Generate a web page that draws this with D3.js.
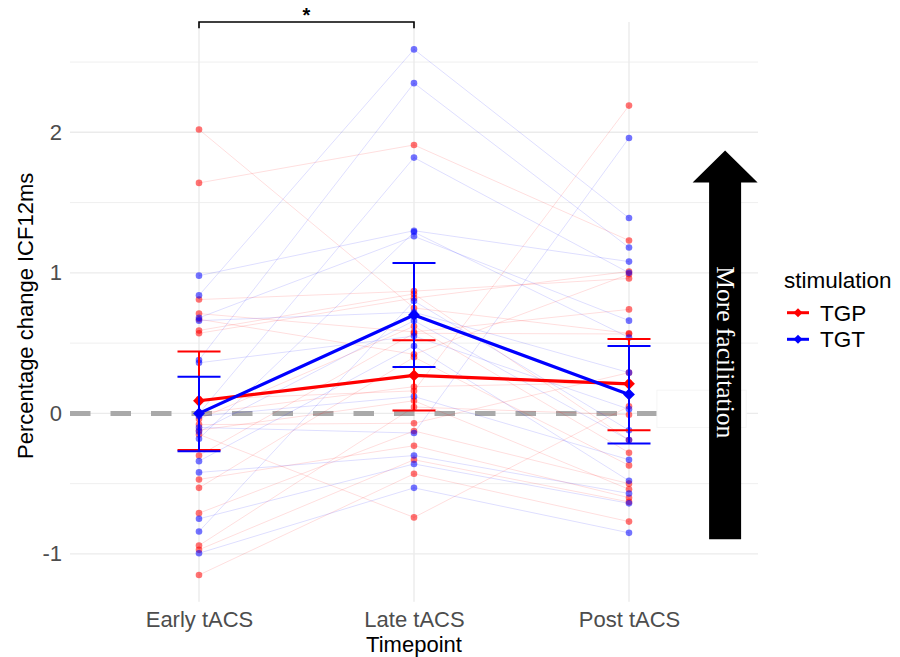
<!DOCTYPE html>
<html>
<head>
<meta charset="utf-8">
<script src="https://cdn.jsdelivr.net/npm/d3@7"></script>
<style>
  html, body { margin: 0; padding: 0; background: #fff; }
  svg { display: block; }
</style>
</head>
<body>
<svg id="chart" width="900" height="657"></svg>
<script>
// Timepoints on the x axis
const timepoints = ["Early tACS", "Late tACS", "Post tACS"];
const groups = ["TGP", "TGT"];
const yTicks = [-1, 0, 1, 2];
const yMinor = [-0.5, 0.5, 1.5, 2.5];

// Individual participants (one value per timepoint, same order)
const tgpEarly = [2.02, 1.64, 0.81, 0.71, 0.67, 0.59, 0.57, 0.10, -0.04, -0.08, -0.12, -0.30, -0.47, -0.53, -0.71, -0.94, -0.97, -1.15, 0.00, -0.15];
const tgpLate  = [0.75, 1.91, 0.87, 0.58, 0.42, 0.85, 0.82, 0.16, 0.62, -0.07, 0.09, 0.57, -0.23, 0.40, -0.125, 0.045, -0.33, -0.43, 0.19, -0.74];
const tgpPost  = [0.57, 1.23, 0.96, 0.74, 0.99, -0.19, 1.01, 2.19, -0.28, 0.29, -0.54, 0.565, -0.60, -0.37, -0.50, -0.01, -0.63, -0.77, 0.22, 0.05];

const tgtEarly = [0.98, 0.84, 0.68, 0.66, 0.38, 0.36, 0.00, -0.02, -0.10, -0.18, -0.34, -0.42, -0.75, -0.84, -0.995, -0.13];
const tgtLate  = [1.30, 2.59, 1.26, 0.72, 2.35, 0.55, 1.82, 0.12, -0.14, 1.29, 0.48, -0.30, -0.36, 0.80, -0.53, 0.66];
const tgtPost  = [1.08, 1.39, 0.66, 0.29, 1.18, 0.03, 1.00, -0.33, 1.96, 0.54, -0.48, -0.57, -0.64, -0.12, -0.85, -0.19];

// Group means with 95% CI
const tgpMean  = [0.09, 0.27, 0.21];
const tgpLower = [-0.26, 0.02, -0.12];
const tgpUpper = [0.44, 0.52, 0.53];
const tgtMean  = [0.00, 0.70, 0.135];
const tgtLower = [-0.27, 0.33, -0.215];
const tgtUpper = [0.26, 1.07, 0.48];

const colors = { TGP: "#ff0000", TGT: "#0000ff" };

// ---------------------------------------------------------------
const svg = d3.select("#chart");
const panel = { left: 70, right: 758, top: 22, bottom: 601.7 };

const x = d3.scaleLinear().domain([0.4, 3.6]).range([panel.left, panel.right]);
const y = d3.scaleLinear().domain([-1.34, 2.785]).range([panel.bottom, panel.top]);
const xi = i => x(i + 1);

const series = [
  { key: "TGP", rows: [tgpEarly, tgpLate, tgpPost], mean: tgpMean, lo: tgpLower, hi: tgpUpper },
  { key: "TGT", rows: [tgtEarly, tgtLate, tgtPost], mean: tgtMean, lo: tgtLower, hi: tgtUpper }
];

// Grid
const grid = svg.append("g");
grid.selectAll(".minor").data(yMinor).join("line")
  .attr("x1", panel.left).attr("x2", panel.right)
  .attr("y1", d => y(d)).attr("y2", d => y(d))
  .attr("stroke", "#ebebeb").attr("stroke-width", 0.8);
grid.selectAll(".major").data(yTicks).join("line")
  .attr("x1", panel.left).attr("x2", panel.right)
  .attr("y1", d => y(d)).attr("y2", d => y(d))
  .attr("stroke", "#ebebeb").attr("stroke-width", 1.4);
grid.selectAll(".vmajor").data(timepoints).join("line")
  .attr("x1", (d, i) => xi(i)).attr("x2", (d, i) => xi(i))
  .attr("y1", panel.top).attr("y2", panel.bottom)
  .attr("stroke", "#ebebeb").attr("stroke-width", 1.4);

// Reference line at zero
svg.append("line")
  .attr("x1", panel.left).attr("x2", panel.right)
  .attr("y1", y(0)).attr("y2", y(0))
  .attr("stroke", "#a9a9a9").attr("stroke-width", 5)
  .attr("stroke-dasharray", "20.5,20");

// Faint label box behind the arrow
svg.append("rect")
  .attr("x", x(3.13)).attr("y", y(0.165))
  .attr("width", x(3.545) - x(3.13)).attr("height", y(-0.1) - y(0.165))
  .attr("fill", "#fff").attr("stroke", "#f5f5f5").attr("stroke-width", 1);

// Participant trajectories
const line = d3.line().x(d => xi(d.t)).y(d => y(d.v));
series.forEach(s => {
  const n = s.rows[0].length;
  const subjects = d3.range(n).map(k => s.rows.map((r, t) => ({ t, v: r[k] })));
  svg.append("g").selectAll("path").data(subjects).join("path")
    .attr("d", line).attr("fill", "none")
    .attr("stroke", colors[s.key]).attr("stroke-opacity", 0.13).attr("stroke-width", 1);
});
series.forEach(s => {
  const pts = s.rows.flatMap((r, t) => r.map(v => ({ t, v })));
  svg.append("g").selectAll("circle").data(pts).join("circle")
    .attr("cx", d => xi(d.t)).attr("cy", d => y(d.v)).attr("r", 3.3)
    .attr("fill", colors[s.key]).attr("fill-opacity", 0.55);
});

// Group means, error bars and markers
series.forEach(s => {
  const g = svg.append("g");
  const mpts = s.mean.map((v, t) => ({ t, v }));
  g.append("path").attr("d", line(mpts)).attr("fill", "none")
    .attr("stroke", colors[s.key]).attr("stroke-width", 3.2).attr("stroke-linejoin", "round");
  s.mean.forEach((m, t) => {
    g.append("line").attr("x1", xi(t)).attr("x2", xi(t))
      .attr("y1", y(s.lo[t])).attr("y2", y(s.hi[t]))
      .attr("stroke", colors[s.key]).attr("stroke-width", 2);
    [s.lo[t], s.hi[t]].forEach(v => {
      g.append("line").attr("x1", xi(t) - 21.5).attr("x2", xi(t) + 21.5)
        .attr("y1", y(v)).attr("y2", y(v))
        .attr("stroke", colors[s.key]).attr("stroke-width", 2);
    });
  });
  g.selectAll("path.m").data(mpts).join("path").attr("class", "m")
    .attr("d", d3.symbol().type(d3.symbolSquare).size(70))
    .attr("transform", d => `translate(${xi(d.t)},${y(d.v)}) rotate(45)`)
    .attr("fill", colors[s.key]);
});

// Axes
const yAxis = svg.append("g")
  .attr("transform", `translate(${panel.left - 8},0)`)
  .call(d3.axisLeft(y).tickValues(yTicks).tickSize(0).tickPadding(0).tickFormat(d => String(d)));
yAxis.select(".domain").remove();
yAxis.selectAll("text").attr("font-family", "Liberation Sans, Arial, sans-serif")
  .attr("font-size", 22).attr("fill", "#4d4d4d");

const xAxis = svg.append("g")
  .attr("transform", `translate(0,${panel.bottom})`)
  .call(d3.axisBottom(x).tickValues([1, 2, 3]).tickSize(0).tickPadding(0)
    .tickFormat(d => timepoints[d - 1]));
xAxis.select(".domain").remove();
xAxis.selectAll("text").attr("font-family", "Liberation Sans, Arial, sans-serif")
  .attr("font-size", 22).attr("fill", "#4d4d4d").attr("dy", null).attr("y", 25);

svg.append("text").text("Timepoint")
  .attr("x", (panel.left + panel.right) / 2).attr("y", 651.5)
  .attr("text-anchor", "middle").attr("font-family", "Liberation Sans, Arial, sans-serif")
  .attr("font-size", 22).attr("fill", "#000");

svg.append("text").text("Percentage change ICF12ms")
  .attr("transform", `translate(33,${(panel.top + panel.bottom) / 2 + 4}) rotate(-90)`)
  .attr("text-anchor", "middle").attr("font-family", "Liberation Sans, Arial, sans-serif")
  .attr("font-size", 22).attr("fill", "#000");

// Significance bracket between Early and Late
const br = svg.append("g").attr("stroke", "#000").attr("stroke-width", 1.6).attr("fill", "none");
br.append("path").attr("d",
  `M${xi(0)},${y(2.74)} V${y(2.785)} H${xi(1)} V${y(2.74)}`);
svg.append("text").text("*")
  .attr("x", (xi(0) + xi(1)) / 2).attr("y", 22)
  .attr("text-anchor", "middle").attr("font-family", "Liberation Sans, Arial, sans-serif")
  .attr("font-size", 20).attr("font-weight", "bold").attr("fill", "#000");

// Direction arrow
const arrowX = 3.447, arrowFrom = -0.895, arrowTo = 1.87;
const ax = x(arrowX), ay0 = y(arrowFrom), ay1 = y(arrowTo);
const shaftHalf = 16, headHalf = 32.5, headLen = 32;
svg.append("path")
  .attr("d", `M${ax - shaftHalf},${ay0} V${ay1 + headLen} H${ax - headHalf} L${ax},${ay1} L${ax + headHalf},${ay1 + headLen} H${ax + shaftHalf} V${ay0} Z`)
  .attr("fill", "#000");
svg.append("text").text("More facilitation")
  .attr("transform", `translate(${ax},${y(0.435)}) rotate(90)`)
  .attr("text-anchor", "middle").attr("dominant-baseline", "central")
  .attr("font-family", "Liberation Serif, Times New Roman, serif")
  .attr("font-size", 25.5).attr("fill", "#fff");

// Legend
const leg = svg.append("g").attr("font-family", "Liberation Sans, Arial, sans-serif");
leg.append("text").text("stimulation").attr("x", 784).attr("y", 288)
  .attr("font-size", 22.5).attr("fill", "#000");
groups.forEach((gname, i) => {
  const cy = 312.7 + i * 26.6;
  leg.append("line").attr("x1", 787).attr("x2", 809).attr("y1", cy).attr("y2", cy)
    .attr("stroke", colors[gname]).attr("stroke-width", 3);
  leg.append("path").attr("d", d3.symbol().type(d3.symbolSquare).size(40))
    .attr("transform", `translate(798,${cy}) rotate(45)`).attr("fill", colors[gname]);
  leg.append("text").text(gname).attr("x", 820).attr("y", cy + 8)
    .attr("font-size", 22.5).attr("fill", "#000");
});
</script>
</body>
</html>
